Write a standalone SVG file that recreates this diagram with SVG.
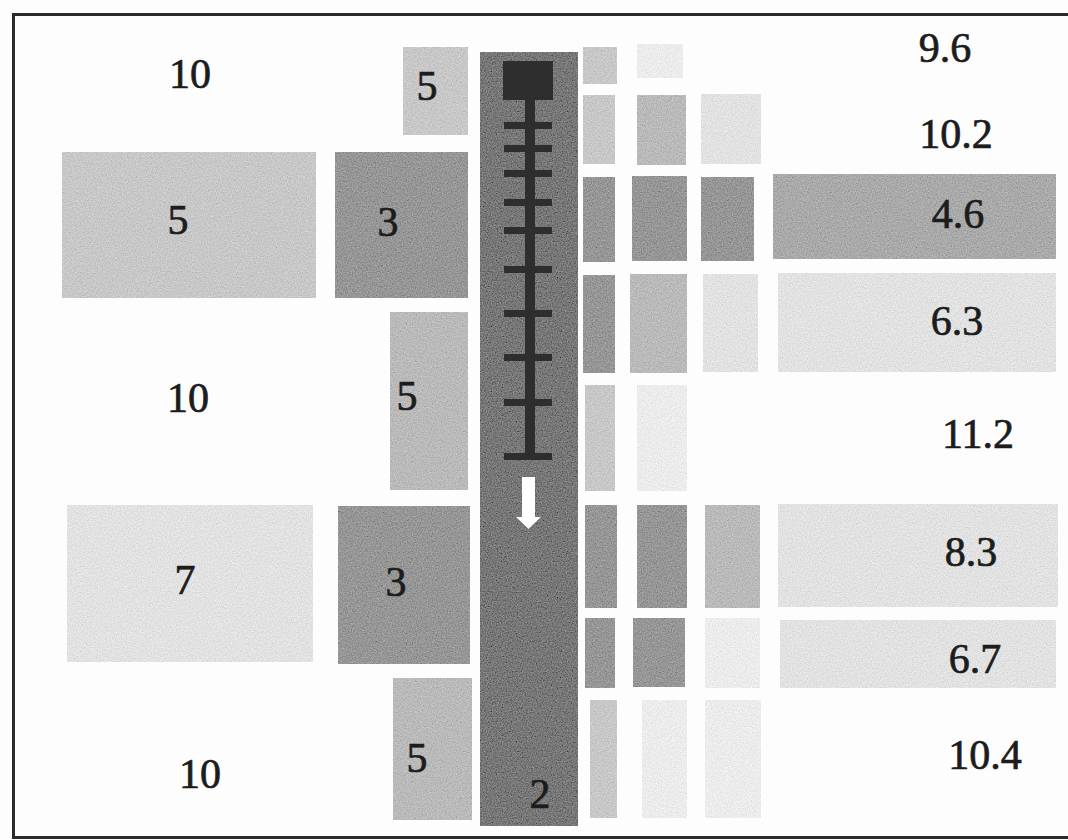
<svg xmlns="http://www.w3.org/2000/svg" width="1068" height="840" viewBox="0 0 1068 840">
<defs>
<filter id="grain" x="0" y="0" width="1" height="1">
<feTurbulence type="fractalNoise" baseFrequency="0.8" numOctaves="2" seed="4" result="t"/>
<feColorMatrix in="t" type="matrix" values="0.33 0.33 0.33 0 0  0.33 0.33 0.33 0 0  0.33 0.33 0.33 0 0  0 0 0 0 1" result="g"/>
<feComposite in="SourceGraphic" in2="g" operator="arithmetic" k1="0" k2="1" k3="0.6" k4="-0.3"/>
</filter>
<style>
.b{filter:url(#grain)}
.d{fill:#979797}
.m{fill:#bababa}
.l{fill:#c8c8c8}
.v{fill:#e2e2e2}
.w{fill:#ececec}
.t{font-family:"Liberation Serif","Times New Roman",serif;font-size:42px;fill:#1c1c1c;stroke:#1c1c1c;stroke-width:0.7;text-anchor:middle}
.lad{fill:#2e2e2e}
</style>
</defs>
<rect x="0" y="0" width="1068" height="840" fill="#fdfdfd"/>
<rect x="13.5" y="14.5" width="1070" height="823" fill="none" stroke="#2a2a2a" stroke-width="3"/>

<g id="col-left">
<g id="n-10a"><text class="t" x="190" y="88">10</text></g>
<g id="n-5wide"><rect class="b l" x="62" y="152" width="254" height="146"/><text class="t" x="178" y="234">5</text></g>
<g id="n-10b"><text class="t" x="188" y="412">10</text></g>
<g id="n-7"><rect class="b v" x="67" y="505" width="246" height="157"/><text class="t" x="185" y="594">7</text></g>
<g id="n-10c"><text class="t" x="200" y="788">10</text></g>
</g>

<g id="col-left2">
<g id="n-5a"><rect class="b l" x="403" y="47" width="65" height="88"/><text class="t" x="427" y="100">5</text></g>
<g id="n-3a"><rect class="b d" x="335" y="152" width="133" height="146"/><text class="t" x="388" y="236">3</text></g>
<g id="n-5b"><rect class="b m" x="390" y="312" width="78" height="178"/><text class="t" x="407" y="410">5</text></g>
<g id="n-3b"><rect class="b d" x="338" y="506" width="132" height="158"/><text class="t" x="396" y="596">3</text></g>
<g id="n-5c"><rect class="b m" x="393" y="678" width="79" height="142"/><text class="t" x="417" y="772">5</text></g>
</g>

<g id="n-center">
<rect class="b" x="480" y="52" width="98" height="774" fill="#787878"/>
<text class="t" x="540" y="808">2</text>
</g>

<g id="ladder">
<rect class="lad" x="503" y="61" width="50" height="39"/>
<rect class="lad" x="525" y="100" width="10" height="358"/>
<rect class="lad" x="504" y="122" width="48" height="7"/>
<rect class="lad" x="504" y="145" width="48" height="7"/>
<rect class="lad" x="504" y="170" width="48" height="7"/>
<rect class="lad" x="504" y="199" width="48" height="7"/>
<rect class="lad" x="504" y="227" width="48" height="7"/>
<rect class="lad" x="504" y="266" width="48" height="7"/>
<rect class="lad" x="504" y="310" width="48" height="7"/>
<rect class="lad" x="504" y="354" width="48" height="7"/>
<rect class="lad" x="504" y="399" width="48" height="7"/>
<rect class="lad" x="504" y="453" width="48" height="7"/>
</g>

<g id="connectors">
<path d="M522 477 H535 V517 H541 L528.5 529 L516 517 H522 Z" fill="#ffffff"/>
</g>

<g id="col-right">
<g id="r1"><rect class="b l" x="583" y="47" width="34" height="37"/><rect class="b w" x="637" y="44" width="46" height="34"/></g>
<g id="r2"><rect class="b l" x="583" y="95" width="32" height="69"/><rect class="b m" x="637" y="95" width="49" height="70"/><rect class="b v" x="701" y="94" width="60" height="70"/></g>
<g id="r3"><rect class="b d" x="583" y="177" width="32" height="85"/><rect class="b d" x="632" y="176" width="55" height="85"/><rect class="b d" x="701" y="177" width="53" height="84"/></g>
<g id="r4"><rect class="b d" x="583" y="275" width="32" height="98"/><rect class="b m" x="630" y="274" width="57" height="99"/><rect class="b v" x="703" y="274" width="55" height="98"/></g>
<g id="r5"><rect class="b l" x="585" y="385" width="30" height="106"/><rect class="b w" x="637" y="385" width="50" height="106"/></g>
<g id="r6"><rect class="b d" x="585" y="505" width="32" height="103"/><rect class="b d" x="637" y="505" width="50" height="103"/><rect class="b m" x="705" y="505" width="55" height="103"/></g>
<g id="r7"><rect class="b d" x="585" y="618" width="30" height="70"/><rect class="b d" x="633" y="618" width="52" height="69"/><rect class="b w" x="705" y="618" width="55" height="70"/></g>
<g id="r8"><rect class="b l" x="590" y="700" width="27" height="118"/><rect class="b w" x="642" y="700" width="45" height="118"/><rect class="b w" x="705" y="700" width="56" height="118"/></g>
</g>

<g id="col-values">
<g id="v-9.6"><text class="t" x="945" y="62">9.6</text></g>
<g id="v-10.2"><text class="t" x="956" y="148">10.2</text></g>
<g id="v-4.6"><rect class="b" x="773" y="174" width="283" height="85" fill="#aaaaaa"/><text class="t" x="958" y="228">4.6</text></g>
<g id="v-6.3"><rect class="b v" x="778" y="273" width="278" height="99"/><text class="t" x="957" y="335">6.3</text></g>
<g id="v-11.2"><text class="t" x="978" y="448">11.2</text></g>
<g id="v-8.3"><rect class="b v" x="778" y="504" width="280" height="103"/><text class="t" x="971" y="566">8.3</text></g>
<g id="v-6.7"><rect class="b v" x="780" y="620" width="276" height="68"/><text class="t" x="975" y="673">6.7</text></g>
<g id="v-10.4"><text class="t" x="985" y="769">10.4</text></g>
</g>
</svg>
